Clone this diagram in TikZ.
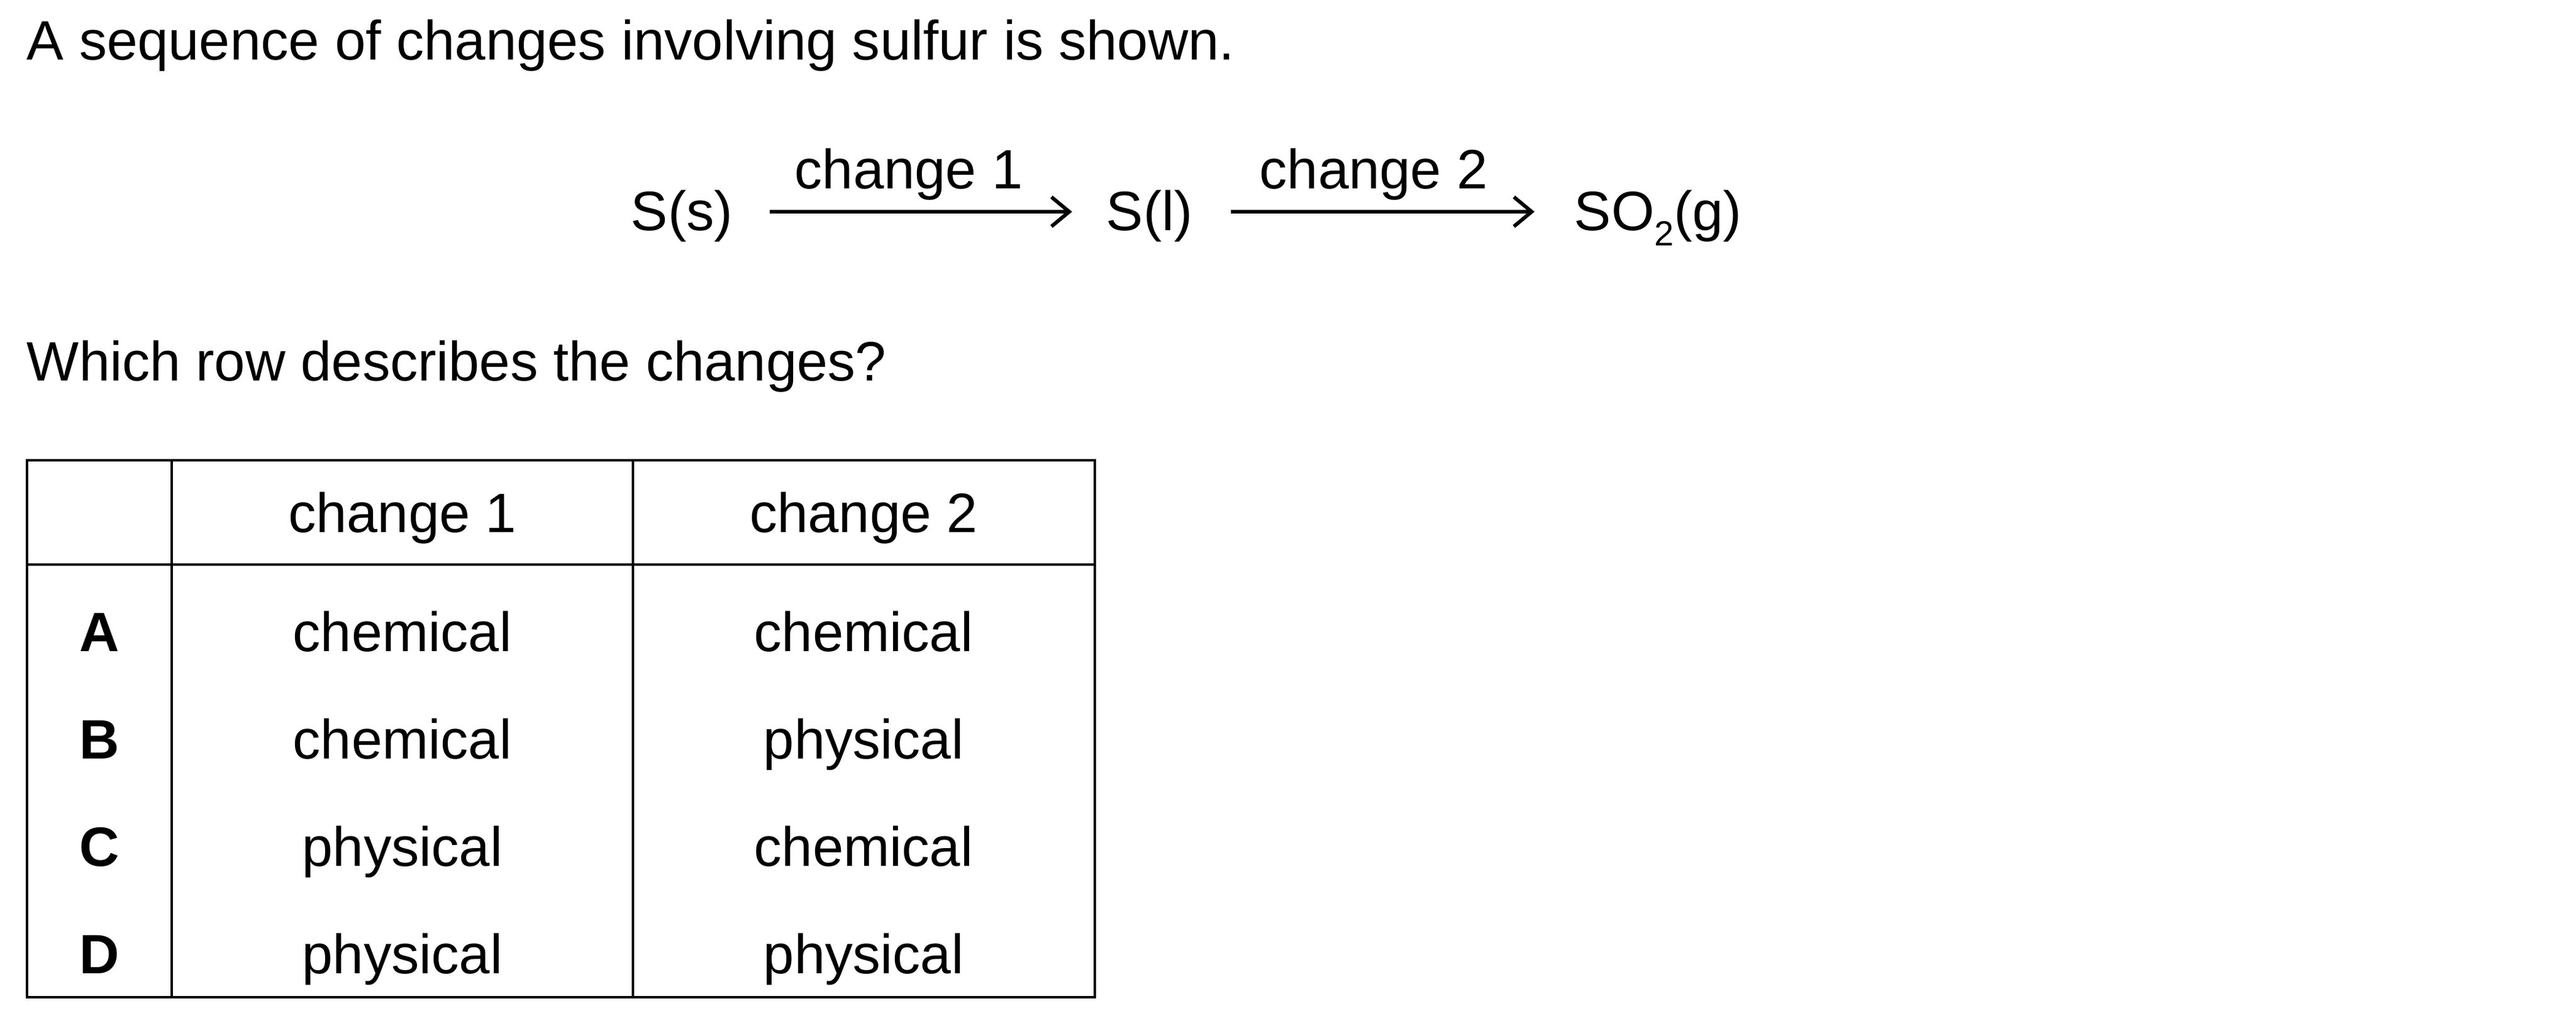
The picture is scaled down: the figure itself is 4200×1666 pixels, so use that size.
\documentclass[tikz,border=0pt]{standalone}
\usepackage{fontspec}
\setmainfont{Liberation Sans}
\usetikzlibrary{arrows.meta,positioning}

\begin{document}
\begin{tikzpicture}[x=0.01cm, y=-0.01cm,
        every node/.style={font=\fontsize{25.7}{30}\selectfont, inner sep=0pt},
        rxn/.style={line width=1.7pt, -{Straight Barb[length=2.9mm,width=4.8mm]}},
        grid/.style={line width=1.4pt}]
        \useasboundingbox (0, 0) rectangle (4200, 1666);

        \node[anchor=base west] (intro) at (43, 97) {A sequence of changes involving sulfur is shown.};

        \node[anchor=base west] (ss) at (1028, 375) {S(s)};
        \node[anchor=base west] (sl) at (1803, 375) {S(l)};
        \node[anchor=base west] (so) at (2566, 375)
            {SO\raisebox{-0.25cm}{\fontsize{16.2}{19}\selectfont 2}(g)};

        \draw[rxn] ([shift={(60, -30)}]ss.base east) -- ([shift={(-55, -30)}]sl.base west)
            node[anchor=base, pos=0.5, xshift=-0.2cm, yshift=0.37cm] (c1) {change 1};
        \draw[rxn] ([shift={(62, -30)}]sl.base east) -- ([shift={(-64, -30)}]so.base west)
            node[anchor=base, pos=0.5, xshift=-0.15cm, yshift=0.37cm] (c2) {change 2};

        \node[anchor=base west] (ask) at (43, 620) {Which row describes the changes?};

        \coordinate (tl) at (44, 750);
        \coordinate (br) at (1785, 1625);
        \draw[grid] (tl) rectangle (br);
        \draw[grid] (280, 750) -- (280, 1625);
        \draw[grid] (1032, 750) -- (1032, 1625);
        \draw[grid] (44, 920) -- (1785, 920);

        \node[anchor=base] (head1) at (656, 867) {change 1};
        \node[anchor=base] (head2) at (1408, 867) {change 2};
        \foreach \row/\one/\two [count=\i from 0] in {A/chemical/chemical, B/chemical/physical,
                                                     C/physical/chemical, D/physical/physical} {
            \node[anchor=base, font=\fontsize{25.7}{30}\selectfont\bfseries] (key\row) at (162, 1061+175*\i) {\row};
            \node[anchor=base] (one\row) at (656, 1061+175*\i) {\one};
            \node[anchor=base] (two\row) at (1408, 1061+175*\i) {\two};
        }
    \end{tikzpicture}
\end{document}
